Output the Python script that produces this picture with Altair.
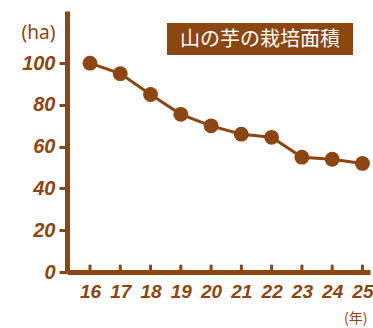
import altair as alt
import pandas as pd

years = [16, 17, 18, 19, 20, 21, 22, 23, 24, 25]
area = [100, 95, 85, 75.5, 70, 66, 64.5, 55, 54, 52]
y_ticks = [0, 20, 40, 60, 80, 100]
title_text = "山の芋の栽培面積"

BROWN = "#8B4611"
NUMFONT = "Liberation Sans"

df = pd.DataFrame({"year": years, "area": area})
tick_df = pd.DataFrame({"year": years, "area": [0] * len(years), "top": [3.5] * len(years)})

xscale = alt.Scale(domain=[15.24, 25.25], nice=False, zero=False)
yscale = alt.Scale(domain=[0, 125], nice=False)

xaxis = alt.Axis(values=years, title="(年)", grid=False, ticks=False,
                 format="d", labelOverlap=False, labelFlush=False,
                 labelBound=False,
                 domainColor=BROWN, domainWidth=5,
                 labelColor=BROWN, labelFont=NUMFONT, labelFontSize=19,
                 labelFontWeight="bold", labelFontStyle="italic",
                 labelPadding=10,
                 titleColor=BROWN, titleFont="Noto Sans CJK JP",
                 titleFontSize=14, titleFontWeight="normal",
                 titleX=300, titleY=46, titleAlign="right",
                 titleBaseline="middle")
yaxis = alt.Axis(values=y_ticks, title="(ha)", grid=False,
                 labelOverlap=False,
                 domainColor=BROWN, domainWidth=5,
                 tickColor=BROWN, tickWidth=3, tickSize=8,
                 labelColor=BROWN, labelFont=NUMFONT, labelFontSize=20,
                 labelFontWeight="bold", labelFontStyle="italic",
                 labelPadding=4,
                 titleColor=BROWN, titleFont="Noto Sans", titleFontSize=19,
                 titleFontWeight="normal", titleAngle=0,
                 titleX=-29, titleY=21, titleAlign="center",
                 titleBaseline="middle")

X = alt.X("year:Q", scale=xscale, axis=xaxis)
Y = alt.Y("area:Q", scale=yscale, axis=yaxis)

line = alt.Chart(df).mark_line(color=BROWN, strokeWidth=3).encode(x=X, y=Y)
points = alt.Chart(df).mark_circle(color=BROWN, opacity=1, size=220).encode(x=X, y=Y)
xticks = alt.Chart(tick_df).mark_rule(color=BROWN, strokeWidth=3).encode(
    x=X, y=Y, y2="top:Q"
)

box = alt.Chart(pd.DataFrame({"t": [title_text]})).mark_rect(color=BROWN).encode(
    x=alt.value(100), x2=alt.value(286), y=alt.value(12), y2=alt.value(44)
)
label = alt.Chart(pd.DataFrame({"t": [title_text]})).mark_text(
    color="white", font="Noto Sans CJK JP", fontSize=20, align="center",
    baseline="middle"
).encode(text="t:N", x=alt.value(193), y=alt.value(28.5))

chart = alt.layer(xticks, line, points, box, label).properties(
    width=303, height=261,
    padding={"left": 67, "top": 11, "right": 3, "bottom": 56},
    autosize=alt.AutoSizeParams(type="none"),
    background="white",
).configure_view(stroke=None).configure_axis(labelOverlap=False)

chart.save("out.html", embed_options={"renderer": "svg", "actions": False})
